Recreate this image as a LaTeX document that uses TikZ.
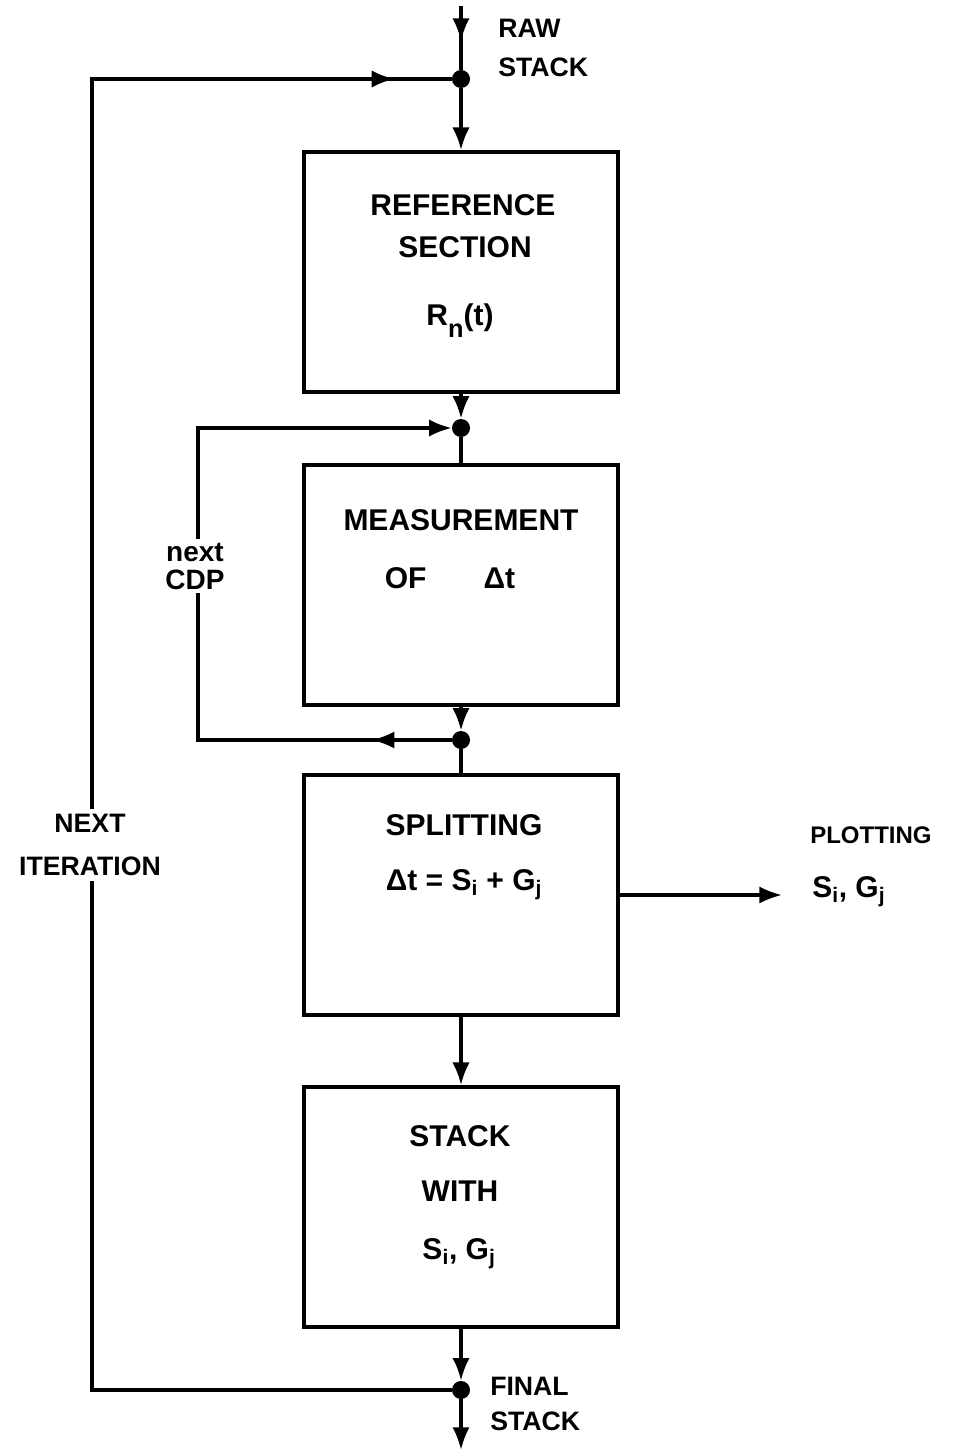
\documentclass[tikz,border=0pt]{standalone}
\usepackage{fontspec}
\setmainfont{Liberation Sans}
\usetikzlibrary{arrows.meta,decorations.markings}

\tikzset{
  blk/.style={draw, line width=2.8pt, minimum width=235.5pt, minimum height=180pt, inner sep=0pt},
  dot/.style={circle, fill, inner sep=0pt, minimum size=13.5pt},
  wire/.style={line width=2.6pt},
  flow/.style={wire, -{Latex[length=17pt,width=13pt]}},
  midarrow/.style={postaction={decorate}, decoration={markings, mark=at position #1 with {\arrow{Latex[length=17pt,width=13pt]}}}},
  txt/.style={inner sep=0pt, anchor=base, font=\bfseries\fontsize{22.5}{27}\selectfont},
  lbl/.style={inner sep=0pt, anchor=base west, font=\bfseries\fontsize{20}{32}\selectfont},
}

\begin{document}
\begin{tikzpicture}[x=0.75pt,y=0.75pt,yscale=-1,xscale=1]
\useasboundingbox (0,0) rectangle (969,1452);
				% blocks
				\node[blk] (ref) at (461,272) {};
				\node[blk] (meas) at (461,585) {};
				\node[blk] (split) at (461,895) {};
				\node[blk] (stk) at (461,1207) {};
				% junctions and free ends
				\node[dot] (jtop) at (461,79) {};
				\node[dot] (jin) at (461,428) {};
				\node[dot] (jout) at (461,740) {};
				\node[dot] (jbot) at (461,1390) {};
				\coordinate (rawin) at (461,6);
				\coordinate (finout) at (461,1450);
				\coordinate (plt) at (782,895);
				\coordinate (itb) at (92,1390);
				\coordinate (itt) at (92,79);
				\coordinate (cdpb) at (198,740);
				\coordinate (cdpt) at (198,428);
				% connectors
				\draw[wire, midarrow=0.55] (rawin) -- (jtop);
				\draw[flow] (jtop) -- (ref);
				\draw[flow] (ref) -- (jin);
				\draw[wire] (jin) -- (meas);
				\draw[flow] (meas) -- (jout);
				\draw[wire] (jout) -- (split);
				\draw[flow] (split) -- (stk);
				\draw[flow] (stk) -- (jbot);
				\draw[flow] (jbot) -- (finout);
				\draw[flow] (split) -- (plt);
				\draw[flow, midarrow=60pt] (jout) -- (cdpb) -- (cdpt) -- (jin);
				\draw[wire, midarrow=-43pt] (jbot) -- (itb) -- (itt) -- (jtop);
				% block texts
				\node[txt] (reft1) at (463,215) {REFERENCE};
				\node[txt] (reft2) at (465,257) {SECTION};
				\node[txt] (reft3) at (460,325) {R\raisebox{-9pt}{\fontsize{19}{19}\selectfont n}(t)};
				\node[txt] (meast1) at (461,530) {MEASUREMENT};
				\node[txt] (meast2) at (450,588) {OF\hspace{1.9em}Δt};
				\node[txt] (splitt1) at (464,835) {SPLITTING};
				\node[txt] (splitt2) at (464,890) {Δt = S\textsubscript{i} + G\textsubscript{j}};
				\node[txt] (stkt1) at (460,1146) {STACK};
				\node[txt] (stkt2) at (460,1201) {WITH};
				\node[txt] (stkt3) at (459,1259) {S\textsubscript{i}, G\textsubscript{j}};
				% labels
				\node[lbl] (raw1) at (498,38) {RAW};
				\node[lbl] (raw2) at (498,77) {STACK};
				\node[lbl] (fin1) at (490,1395) {FINAL};
				\node[lbl] (fin2) at (490,1430) {STACK};
				\node[lbl, font=\bfseries\fontsize{18}{32}\selectfont] (plt1) at (810,843) {PLOTTING};
				\node[txt, anchor=base west] (plt2) at (812,897) {S\textsubscript{i}, G\textsubscript{j}};
				\node[lbl, anchor=center, align=center, fill=white, inner ysep=4pt] (iter) at (90,845) {NEXT\\ITERATION};
				\node[fill=white, inner sep=3pt, align=center, font=\bfseries\fontsize{21}{21}\selectfont] (cdp) at (195,566) {next\\CDP};
\end{tikzpicture}
\end{document}
